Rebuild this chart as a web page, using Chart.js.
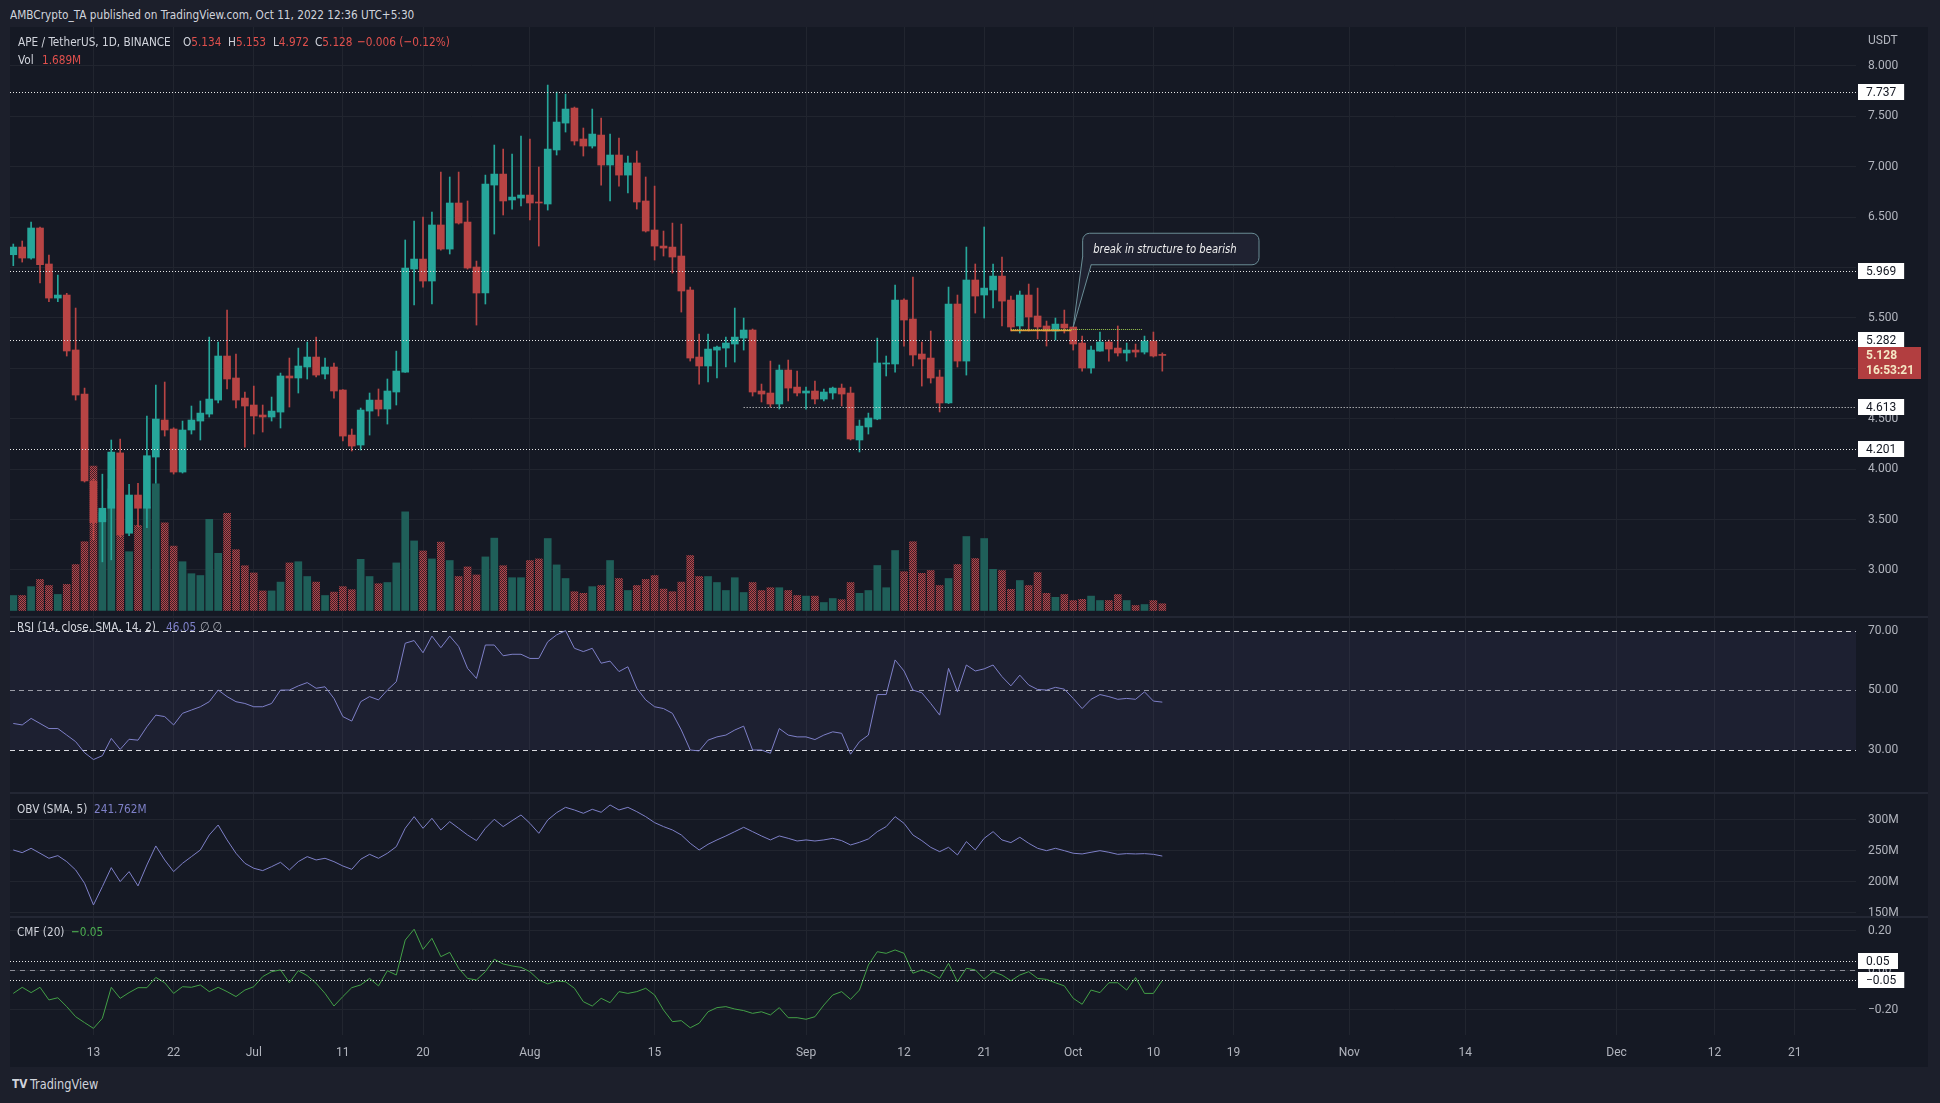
<!DOCTYPE html>
<html>
<head>
<meta charset="utf-8">
<title>APE / TetherUS 1D</title>
<script src="https://cdn.jsdelivr.net/npm/chart.js@4.4.1/dist/chart.umd.min.js"></script>
<style>
  html, body { margin: 0; padding: 0; }
  body { width: 1940px; height: 1103px; background: #1c1f2b; position: relative; overflow: hidden;
         font-family: "Liberation Sans Narrow", "DejaVu Sans Condensed", Roboto, sans-serif; color: #d1d4dc; }
  #panel { position: absolute; left: 10px; top: 27px; width: 1918px; height: 1040px; background: #151924; }
  canvas { position: absolute; left: 10px; }
  .sep { position: absolute; left: 10px; width: 1918px; height: 2px; background: #232734; }
  .t { position: absolute; white-space: nowrap; font-size: 13px; line-height: 16px;
       transform: scaleX(0.9); transform-origin: 0 50%; }
  .g { color: #b2b5be; }
  .r { color: #e0504d; }
  .p { color: #7e80c8; }
  .gr { color: #4caf50; }
</style>
</head>
<body>
<div id="panel"></div>
<canvas id="cPrice" width="1918" height="589" style="top:27px"></canvas>
<div class="sep" style="top:616px"></div>
<canvas id="cRsi" width="1918" height="174" style="top:618px"></canvas>
<div class="sep" style="top:792px"></div>
<canvas id="cObv" width="1918" height="122" style="top:794px"></canvas>
<div class="sep" style="top:916px"></div>
<canvas id="cCmf" width="1918" height="149" style="top:918px"></canvas>

<div class="t" style="left:10px;top:7px">AMBCrypto_TA published on TradingView.com, Oct 11, 2022 12:36 UTC+5:30</div>
<div class="t" style="left:18px;top:34px">APE / TetherUS, 1D, BINANCE</div>
<div class="t" style="left:183px;top:34px">O<span class="r">5.134</span></div>
<div class="t" style="left:228px;top:34px">H<span class="r">5.153</span></div>
<div class="t" style="left:273px;top:34px">L<span class="r">4.972</span></div>
<div class="t" style="left:315px;top:34px">C<span class="r">5.128</span></div>
<div class="t r" style="left:357px;top:34px">−0.006 (−0.12%)</div>
<div class="t" style="left:18px;top:52px">Vol</div>
<div class="t r" style="left:42px;top:52px">1.689M</div>
<div class="t g" style="left:1868px;top:33px;font:12px Roboto;transform:none">USDT</div>

<div class="t" style="left:17px;top:619px">RSI (14, close, SMA, 14, 2)</div>
<div class="t p" style="left:166px;top:619px">46.05</div>
<div class="t g" style="left:200px;top:619px">∅ ∅</div>
<div class="t" style="left:17px;top:801px">OBV (SMA, 5)</div>
<div class="t p" style="left:94px;top:801px">241.762M</div>
<div class="t" style="left:17px;top:924px">CMF (20)</div>
<div class="t gr" style="left:71px;top:924px">−0.05</div>

<div class="t" style="left:12px;top:1076px;font-weight:bold;font-size:13px">TV</div>
<div class="t" style="left:30px;top:1076px;font-size:14px">TradingView</div>

<script>
// APE/USDT daily, Jun 4 -> Oct 11 2022 (index 0 = Jun 4)
var opens = [6.127,6.203,6.094,6.392,6.035,5.697,5.727,5.182,4.745,3.882,
  3.477,3.612,4.161,3.364,3.743,3.612,4.120,4.487,4.398,3.971,
  4.388,4.477,4.546,4.685,5.122,4.904,4.705,4.636,4.537,4.517,
  4.566,4.924,4.904,5.013,5.112,4.943,5.013,4.785,4.338,4.239,
  4.576,4.685,4.596,4.765,4.963,5.985,6.084,5.866,6.422,6.183,
  6.640,6.451,6.005,5.747,6.818,6.927,6.670,6.689,6.719,6.650,
  6.630,7.166,7.433,7.582,7.275,7.205,7.314,7.017,7.116,6.917,
  7.037,6.660,6.372,6.213,6.203,6.114,5.777,5.112,5.023,5.181,
  5.201,5.241,5.300,5.380,4.775,4.755,4.646,4.983,4.814,4.755,
  4.775,4.695,4.755,4.804,4.755,4.289,4.418,4.497,5.043,5.043,
  5.677,5.489,5.142,5.102,4.914,4.656,5.638,5.072,5.876,5.727,
  5.777,5.915,5.677,5.420,5.727,5.519,5.420,5.370,5.439,5.410,
  5.251,5.003,5.171,5.261,5.201,5.152,5.181,5.161,5.271,5.134];
var highs = [6.233,6.263,6.451,6.402,6.124,5.925,5.744,5.598,4.804,3.900,
  3.950,4.289,4.298,3.849,3.860,4.527,4.834,4.864,4.410,4.477,
  4.626,4.676,5.310,5.261,5.578,5.142,4.765,4.824,4.636,4.715,
  4.953,5.102,5.201,5.261,5.310,5.102,5.053,4.790,4.398,4.606,
  4.755,4.795,4.894,5.171,6.273,6.461,6.501,6.550,6.947,6.898,
  6.947,6.660,6.064,6.917,7.215,7.175,7.126,7.304,7.275,6.997,
  7.810,7.741,7.721,7.592,7.384,7.572,7.483,7.324,7.285,7.106,
  7.156,6.898,6.808,6.362,6.441,6.431,5.806,5.340,5.340,5.221,
  5.310,5.598,5.499,5.390,4.844,5.072,5.033,5.082,4.973,4.814,
  4.874,4.795,4.814,4.844,4.814,4.487,4.556,5.300,5.122,5.826,
  5.690,5.906,5.261,5.370,4.983,5.806,5.727,6.203,6.035,6.402,
  6.035,6.104,5.717,5.767,5.836,5.796,5.469,5.499,5.578,5.410,
  5.320,5.221,5.360,5.281,5.420,5.251,5.241,5.320,5.360,5.153];
var lows = [6.018,6.054,6.084,5.846,5.661,5.661,5.122,4.685,3.872,3.300,
  3.080,3.100,3.330,3.340,3.430,3.420,3.860,4.328,3.951,3.961,
  4.348,4.289,4.517,4.656,4.795,4.606,4.219,4.348,4.368,4.477,
  4.408,4.616,4.755,4.894,4.914,4.894,4.705,4.279,4.180,4.190,
  4.338,4.527,4.447,4.636,4.960,5.628,5.806,5.638,6.173,6.134,
  6.431,5.985,5.429,5.638,6.332,6.521,6.580,6.610,6.471,6.213,
  6.570,7.116,7.344,7.215,7.106,7.185,6.818,6.660,6.808,6.739,
  6.580,6.352,6.074,6.114,5.945,5.558,5.072,4.844,4.864,4.904,
  5.013,5.062,5.181,4.725,4.666,4.616,4.596,4.676,4.725,4.596,
  4.646,4.676,4.695,4.626,4.289,4.170,4.348,4.490,4.924,4.963,
  5.221,5.023,4.824,4.854,4.567,4.650,5.013,4.933,5.548,5.499,
  5.598,5.420,5.370,5.350,5.370,5.291,5.221,5.281,5.350,5.181,
  4.973,4.953,5.170,5.072,5.122,5.072,5.112,5.142,5.112,4.972];
var closes = [6.203,6.094,6.392,6.028,5.697,5.727,5.172,4.735,3.882,3.470,
  3.612,4.169,3.346,3.743,3.612,4.133,4.497,4.388,3.971,4.388,
  4.487,4.556,4.695,5.122,4.894,4.685,4.626,4.527,4.517,4.576,
  4.924,4.904,5.023,5.112,4.933,5.013,4.775,4.328,4.229,4.586,
  4.685,4.596,4.775,4.973,5.995,6.084,5.866,6.422,6.183,6.640,
  6.441,5.995,5.747,6.828,6.927,6.660,6.699,6.719,6.640,6.640,
  7.175,7.443,7.572,7.255,7.205,7.324,7.017,7.116,6.917,7.037,
  6.650,6.362,6.213,6.193,6.104,5.767,5.102,5.023,5.191,5.211,
  5.251,5.310,5.380,4.765,4.745,4.646,4.983,4.804,4.755,4.775,
  4.695,4.765,4.804,4.745,4.299,4.427,4.507,5.053,5.053,5.677,
  5.479,5.132,5.092,4.904,4.656,5.638,5.072,5.876,5.717,5.796,
  5.915,5.667,5.410,5.727,5.509,5.410,5.370,5.439,5.400,5.241,
  5.003,5.181,5.261,5.191,5.152,5.181,5.161,5.271,5.122,5.128];
// volume in millions
var volumes = [3.75,3.75,5.97,7.77,6.25,4.02,6.52,11.5,17.2,36.1,
  24.5,30.4,18.75,14.7,21.25,25.9,31.7,21.9,16.1,12.2,
  9.2,8.75,22.8,14.3,24.3,15.2,11.2,9.4,4.9,4.9,
  7.1,11.9,12.2,8.5,7.1,3.75,4.6,5.97,5.2,12.8,
  8.5,6.7,7.0,11.9,24.7,17.4,14.9,12.9,17.1,12.5,
  8.5,10.9,8.9,13.4,18.1,11.2,8.2,8.2,12.5,12.9,
  18.0,11.4,8.0,4.7,4.3,5.97,6.25,12.5,8.0,5.0,
  6.25,7.77,8.75,5.36,4.7,7.1,13.75,8.5,8.5,7.0,
  5.0,8.2,4.5,7.0,5.0,5.7,5.7,5.0,3.75,3.6,
  3.6,2.0,3.0,2.7,7.0,4.3,5.0,11.25,5.7,15.0,
  9.7,17.2,9.3,10.0,6.25,8.0,11.5,18.5,13.0,18.0,
  10.3,10.0,5.3,7.5,6.25,9.5,4.3,3.3,4.0,2.5,
  2.8,3.6,2.5,2.5,4.0,2.5,1.25,1.5,2.5,1.69];
var rsi = [38.9,38.4,40.6,38.9,37.2,37.2,35.0,32.8,29.1,26.8,
  28.1,33.9,30.2,33.6,33.3,37.8,41.7,41.2,38.4,42.3,
  43.4,44.5,46.2,50.1,47.9,46.2,45.6,44.5,44.5,45.6,
  50.1,50.1,51.5,52.6,50.7,51.2,47.3,41.2,39.7,46.2,
  47.9,46.8,50.1,52.9,65.8,66.7,62.6,68.2,64.3,68.2,
  64.7,57.4,54.0,65.2,65.2,61.6,62.1,62.1,60.7,60.7,
  66.3,68.6,70.0,64.1,63.0,64.1,59.1,59.8,56.3,57.9,
  50.7,46.8,44.5,43.9,42.3,36.7,30.0,29.7,33.3,34.4,
  35.0,36.7,38.0,30.0,30.0,28.9,37.2,35.0,34.4,34.4,
  33.5,35.0,36.1,35.6,28.6,32.8,35.0,48.6,48.6,60.2,
  56.5,50.1,49.2,45.6,41.7,57.4,49.5,58.5,56.5,57.2,
  58.5,54.6,51.5,55.1,51.8,50.3,50.1,51.0,50.4,47.3,
  43.9,47.0,48.6,47.9,47.0,47.3,47.0,49.5,46.4,46.05];
// OBV (SMA 5), millions
var obv = [251.6,247.3,254.3,246.3,238.2,242.5,232.8,219.4,197.9,162.9,
  192.5,223.1,200.6,216.7,193.6,227.4,258.1,235.5,216.7,230.1,
  240.9,251.6,275.8,291.9,267.8,246.3,230.1,222.1,218.3,224.7,
  231.7,219.4,232.8,240.9,235.5,238.2,232.8,225.8,220.4,236.6,
  244.6,238.2,246.3,257.0,286.6,305.4,286.6,302.7,283.9,297.3,
  286.6,275.8,266.7,286.6,301.1,289.3,298.9,308.1,294.6,278.5,
  300.0,311.8,320.4,316.1,310.8,317.2,312.4,324.2,316.1,320.4,
  313.4,305.4,295.7,289.3,283.9,275.8,262.4,251.6,260.8,267.8,
  274.2,281.2,288.2,281.2,274.2,267.8,274.2,270.4,266.1,267.8,
  266.1,267.8,270.4,266.7,259.7,264.0,269.4,281.2,289.3,305.4,
  294.6,275.8,266.7,255.9,248.9,255.9,243.6,265.1,251.6,270.4,
  281.2,267.8,263.5,272.1,262.4,254.3,250.5,254.3,250.5,246.3,
  245.2,247.9,250.5,247.9,244.6,245.7,245.2,245.7,244.6,241.762];
var cmf = [-0.116,-0.085,-0.112,-0.085,-0.149,-0.138,-0.183,-0.234,-0.264,-0.293,
  -0.242,-0.085,-0.141,-0.112,-0.087,-0.087,-0.035,-0.062,-0.116,-0.082,
  -0.085,-0.073,-0.107,-0.085,-0.107,-0.132,-0.099,-0.082,-0.031,-0.006,
  0.003,-0.062,-0.001,-0.026,-0.065,-0.116,-0.180,-0.132,-0.087,-0.073,
  -0.040,-0.078,-0.001,-0.023,0.154,0.209,0.107,0.163,0.070,0.092,
  0.011,-0.040,-0.048,-0.006,0.057,0.033,0.023,0.016,-0.006,-0.048,
  -0.068,-0.053,-0.057,-0.090,-0.158,-0.180,-0.141,-0.163,-0.107,-0.116,
  -0.107,-0.090,-0.124,-0.200,-0.259,-0.254,-0.290,-0.267,-0.209,-0.188,
  -0.183,-0.195,-0.203,-0.217,-0.209,-0.225,-0.188,-0.239,-0.239,-0.247,
  -0.234,-0.175,-0.124,-0.107,-0.146,-0.099,0.028,0.095,0.087,0.104,
  0.087,-0.014,0.003,-0.014,-0.040,0.036,-0.057,0.011,0.003,-0.043,
  -0.006,-0.023,-0.052,-0.023,-0.006,-0.040,-0.045,-0.062,-0.078,-0.141,
  -0.171,-0.099,-0.112,-0.062,-0.062,-0.099,-0.036,-0.116,-0.116,-0.05];

// time axis: day index -> label
var tickDays = [9, 18, 27, 37, 46, 58, 72, 89, 100, 109, 119, 128, 137, 150, 163, 180, 191, 200];
var tickLabels = ['13', '22', 'Jul', '11', '20', 'Aug', '15', 'Sep', '12', '21', 'Oct', '10', '19', 'Nov', '14', 'Dec', '12', '21'];

var priceTicks = [3, 3.5, 4, 4.5, 5, 5.5, 6, 6.5, 7, 7.5, 8];
var hiddenPriceTicks = [5, 6];
var levelPrices = [7.737, 5.969, 5.282, 4.613, 4.201];
var levelFrom = [null, null, null, 82, null];
var rsiTicks = [30, 50, 70];
var obvTicks = [150, 200, 250, 300];
var cmfTicks = [-0.2, 0, 0.2];
var cmfTickLabels = ['−0.20', '0.00', '0.20'];
var cmfLevels = [0.05, -0.05];
var cmfLevelLabels = ['0.05', '−0.05'];
var countdown = '16:53:21';

var upColor = '#26a69a';
var downColor = '#b84444';
var gridColor = '#21252f';
var axisText = '#b2b5be';
var axisFont = { size: 12, family: 'Roboto' };
var xMin = -0.37;
var xMax = 206.88;

// red volume bars have a dithered look in the original
function ditherPattern(ctx, a, b) {
  var c = document.createElement('canvas');
  c.width = 2; c.height = 2;
  var g = c.getContext('2d');
  g.fillStyle = b; g.fillRect(0, 0, 2, 2);
  g.fillStyle = a; g.fillRect(0, 0, 1, 1); g.fillRect(1, 1, 1, 1);
  return ctx.createPattern(c, 'repeat');
}

function xScale(showLabels) {
  return {
    type: 'linear', min: xMin, max: xMax, offset: false,
    grid: { color: gridColor, drawTicks: false, offset: false },
    border: { display: false },
    ticks: {
      display: showLabels, color: axisText, font: axisFont, padding: 11,
      maxRotation: 0, autoSkip: false,
      callback: function (v, i) { return tickLabels[i]; }
    },
    afterBuildTicks: function (s) { s.ticks = tickDays.map(function (d) { return { value: d }; }); },
    afterFit: function (s) {
      s.height = showLabels ? 32 : 0;
      s.paddingLeft = 0; s.paddingRight = 0;
    }
  };
}

function yScale(min, max, ticks, fmt, showGrid) {
  return {
    position: 'right', min: min, max: max,
    grid: { color: gridColor, drawTicks: false, display: showGrid },
    border: { display: false },
    ticks: { color: axisText, font: axisFont, padding: 12, autoSkip: false,
      callback: function (v, i) { return fmt(ticks[i], i); } },
    afterBuildTicks: function (s) { s.ticks = ticks.map(function (v) { return { value: v }; }); },
    afterFit: function (s) {
      s.width = 72;
      s.paddingTop = 0; s.paddingBottom = 0;
    }
  };
}

// horizontal levels: dotted lines + white boxes on the axis
var levelsPlugin = {
  id: 'levels',
  afterDatasetsDraw: function (chart, args, o) {
    var ctx = chart.ctx, a = chart.chartArea, sx = chart.scales.x, sy = chart.scales.y;
    ctx.save();
    o.lines.forEach(function (l) {
      var y = Math.round(sy.getPixelForValue(l.value)) + 0.5;
      var x0 = l.from == null ? a.left : sx.getPixelForValue(l.from);
      ctx.strokeStyle = l.color;
      ctx.lineWidth = 1;
      ctx.setLineDash(l.dash);
      ctx.beginPath(); ctx.moveTo(x0, y); ctx.lineTo(a.right, y); ctx.stroke();
    });
    ctx.restore();
  },
  afterDraw: function (chart, args, o) {
    var ctx = chart.ctx, a = chart.chartArea, sy = chart.scales.y;
    ctx.save();
    ctx.font = '12px Roboto';
    ctx.textBaseline = 'middle';
    o.lines.forEach(function (l) {
      if (!l.label) return;
      var y = Math.round(sy.getPixelForValue(l.value));
      var w = ctx.measureText(l.label).width + 16;
      ctx.fillStyle = '#ffffff';
      ctx.fillRect(a.right + 2, y - 8, Math.max(w, 40), 16);
      ctx.fillStyle = '#131722';
      ctx.fillText(l.label, a.right + 10, y + 0.5);
    });
    if (o.last != null) {
      var yl = Math.round(sy.getPixelForValue(o.last));
      ctx.fillStyle = '#b23e40';
      ctx.fillRect(a.right + 2, yl - 8, 63, 32);
      ctx.fillStyle = '#f5e8c4';
      ctx.font = 'bold 12px Roboto';
      ctx.fillText(o.last.toFixed(3), a.right + 10, yl + 0.5);
      ctx.fillText(o.countdown, a.right + 10, yl + 15.5);
    }
    ctx.restore();
  }
};

// callout "break in structure to bearish" and the broken range line
var calloutPlugin = {
  id: 'callout',
  afterDatasetsDraw: function (chart, args, o) {
    var ctx = chart.ctx, sx = chart.scales.x, sy = chart.scales.y;
    ctx.save();
    // range line
    var yl = Math.round(sy.getPixelForValue(o.rangePrice)) + 0.5;
    ctx.strokeStyle = '#9cc84e'; ctx.lineWidth = 1; ctx.setLineDash([1, 1]);
    ctx.beginPath(); ctx.moveTo(sx.getPixelForValue(o.rangeFrom), yl - 1); ctx.lineTo(sx.getPixelForValue(o.rangeTo), yl - 1); ctx.stroke();
    ctx.setLineDash([]);
    ctx.strokeStyle = '#e3a43a'; ctx.lineWidth = 1.5;
    ctx.beginPath(); ctx.moveTo(sx.getPixelForValue(o.rangeFrom), yl); ctx.lineTo(sx.getPixelForValue(o.orangeTo), yl); ctx.stroke();

    var x0 = sx.getPixelForValue(o.x0), x1 = sx.getPixelForValue(o.x1);
    var y0 = sy.getPixelForValue(o.yTop), y1 = sy.getPixelForValue(o.yBot);
    var tx = sx.getPixelForValue(o.tipX), ty = sy.getPixelForValue(o.tipY);
    ctx.fillStyle = '#1f2231';
    ctx.strokeStyle = '#6a8d96';
    ctx.lineWidth = 1;
    ctx.beginPath();
    ctx.roundRect(x0 + 0.5, y0 + 0.5, x1 - x0, y1 - y0, 7);
    ctx.fill(); ctx.stroke();
    ctx.beginPath();
    ctx.moveTo(x0 + 0.5, y1 - 8); ctx.lineTo(tx, ty); ctx.lineTo(x0 + 9, y1 + 0.5);
    ctx.closePath(); ctx.fill();
    ctx.beginPath();
    ctx.moveTo(x0 + 0.5, y1 - 8); ctx.lineTo(tx, ty); ctx.lineTo(x0 + 9, y1 + 0.5);
    ctx.stroke();
    // text squeezed to the box width, like the original narrow italic
    ctx.fillStyle = '#eeeeee';
    ctx.font = 'italic 12px "Liberation Sans Narrow", "DejaVu Sans Condensed", sans-serif';
    ctx.textBaseline = 'middle';
    var tw = ctx.measureText(o.text).width;
    var target = (x1 - x0) - 33;
    ctx.translate(x0 + 11, (y0 + y1) / 2 + 1);
    ctx.scale(Math.min(1, target / tw), 1);
    ctx.fillText(o.text, 0, 0);
    ctx.restore();
  }
};

var rsiPlugin = {
  id: 'rsiBand',
  beforeDatasetsDraw: function (chart) {
    var ctx = chart.ctx, a = chart.chartArea, sy = chart.scales.y;
    var y70 = sy.getPixelForValue(70), y50 = sy.getPixelForValue(50), y30 = sy.getPixelForValue(30);
    ctx.save();
    ctx.fillStyle = 'rgba(126,110,210,0.08)';
    ctx.fillRect(a.left, y70, a.width, y30 - y70);
    ctx.lineWidth = 1;
    ctx.setLineDash([5, 4]);
    [[y70, '#d8d9de'], [y50, '#9a9ca6'], [y30, '#d8d9de']].forEach(function (l) {
      var y = Math.round(l[0]) + 0.5;
      ctx.strokeStyle = l[1];
      ctx.beginPath(); ctx.moveTo(a.left, y); ctx.lineTo(a.right, y); ctx.stroke();
    });
    ctx.restore();
  }
};

var cmfZeroPlugin = {
  id: 'cmfZero',
  beforeDatasetsDraw: function (chart) {
    var ctx = chart.ctx, a = chart.chartArea, sy = chart.scales.y;
    var y = Math.round(sy.getPixelForValue(0)) + 0.5;
    ctx.save();
    ctx.strokeStyle = '#8a8c96'; ctx.lineWidth = 1; ctx.setLineDash([5, 5]);
    ctx.beginPath(); ctx.moveTo(a.left, y); ctx.lineTo(a.right, y); ctx.stroke();
    ctx.restore();
  }
};

function baseOptions(scales, plugins) {
  return {
    animation: false, responsive: false, devicePixelRatio: 1,
    layout: { padding: 0 },
    events: [],
    plugins: Object.assign({ legend: { display: false }, tooltip: { enabled: false } }, plugins || {}),
    scales: scales
  };
}

function seriesPoints(arr) {
  return arr.map(function (v, i) { return { x: i, y: v }; });
}

// ---- price pane ----
var priceCanvas = document.getElementById('cPrice');
var redVol = ditherPattern(priceCanvas.getContext('2d'), '#b5454a', '#3e2029');
var candleColors = opens.map(function (o, i) { return closes[i] >= o ? upColor : downColor; });
var volColors = opens.map(function (o, i) { return closes[i] >= o ? '#1f5f59' : redVol; });

new Chart(priceCanvas, {
  type: 'bar',
  data: {
    datasets: [
      { data: opens.map(function (o, i) { return { x: i, y: [o, closes[i]] }; }),
        backgroundColor: candleColors, barThickness: 7, minBarLength: 1, grouped: false, order: 1, yAxisID: 'y' },
      { data: lows.map(function (l, i) { return { x: i, y: [l, highs[i]] }; }),
        backgroundColor: candleColors, barThickness: 1, grouped: false, order: 2, yAxisID: 'y' },
      { data: seriesPoints(volumes),
        backgroundColor: volColors, barThickness: 7, grouped: false, order: 3, yAxisID: 'yv' }
    ]
  },
  options: baseOptions({
    x: xScale(false),
    y: yScale(2.543, 8.386, priceTicks, function (v) {
      return hiddenPriceTicks.indexOf(v) >= 0 ? '' : v.toFixed(3);
    }, true),
    yv: { display: false, min: -1.375, max: 145.9 }
  }, {
    levels: {
      lines: levelPrices.map(function (v, k) {
        return { value: v, from: levelFrom[k], color: '#e8e8e8', dash: [1, 2], label: v.toFixed(3) };
      }),
      last: closes[closes.length - 1],
      countdown: countdown
    },
    callout: {
      text: 'break in structure to bearish',
      x0: 120.0, x1: 139.8, yTop: 6.345, yBot: 6.032,
      tipX: 119, tipY: 5.41,
      rangePrice: 5.38, rangeFrom: 112, orangeTo: 118.8, rangeTo: 126.8
    }
  }),
  plugins: [levelsPlugin, calloutPlugin]
});

// ---- RSI pane ----
new Chart(document.getElementById('cRsi'), {
  type: 'line',
  data: { datasets: [{ data: seriesPoints(rsi), borderColor: '#7e80c8', borderWidth: 1, pointRadius: 0, tension: 0 }] },
  options: baseOptions({
    x: xScale(false),
    y: yScale(15.92, 74.26, rsiTicks, function (v) { return v.toFixed(2); }, false)
  }),
  plugins: [rsiPlugin]
});

// ---- OBV pane ----
new Chart(document.getElementById('cObv'), {
  type: 'line',
  data: { datasets: [{ data: seriesPoints(obv), borderColor: '#7e80c8', borderWidth: 1, pointRadius: 0, tension: 0 }] },
  options: baseOptions({
    x: xScale(false),
    y: yScale(145.1, 341.9, obvTicks, function (v) { return v + 'M'; }, true)
  })
});

// ---- CMF pane + time axis ----
new Chart(document.getElementById('cCmf'), {
  type: 'line',
  data: { datasets: [{ data: seriesPoints(cmf), borderColor: '#43a047', borderWidth: 1, pointRadius: 0, tension: 0 }] },
  options: baseOptions({
    x: xScale(true),
    y: yScale(-0.3266, 0.2658, cmfTicks, function (v, i) { return cmfTickLabels[i]; }, true)
  }, {
    levels: {
      lines: cmfLevels.map(function (v, k) {
        return { value: v, from: null, color: '#e8e8e8', dash: [1, 2], label: cmfLevelLabels[k] };
      })
    }
  }),
  plugins: [cmfZeroPlugin, levelsPlugin]
});
</script>
</body>
</html>
